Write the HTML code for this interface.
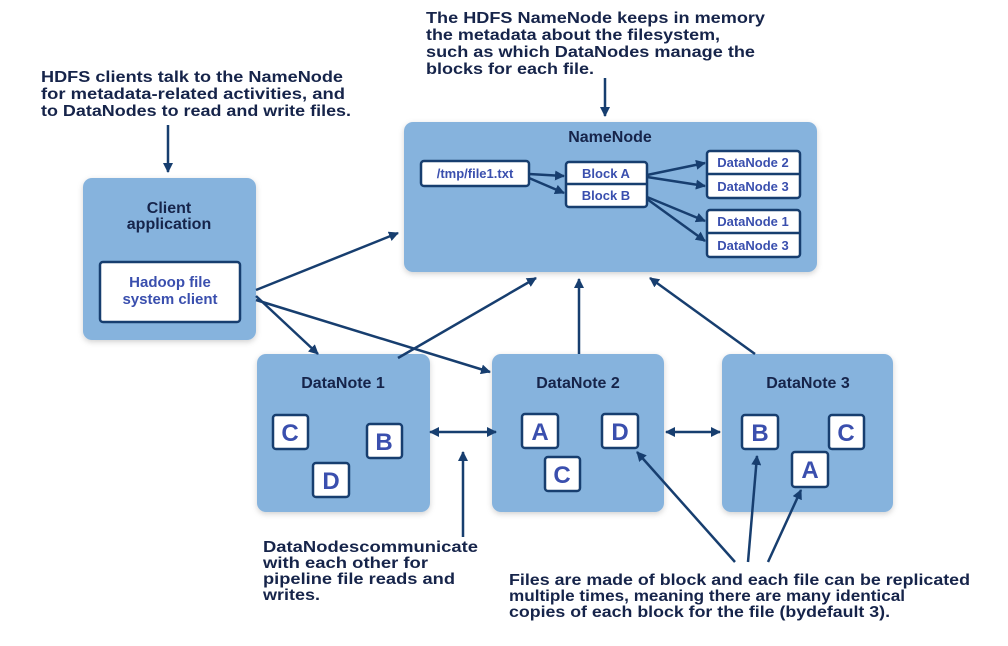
<!DOCTYPE html>
<html><head><meta charset="utf-8"><style>
html,body{margin:0;padding:0;background:#fff;}
svg{display:block;}
text{font-family:"Liberation Sans",sans-serif;font-weight:bold;}
.t{fill:#16244a;font-size:16px;}
.h{fill:#16244a;font-size:16px;}
.w{fill:#3a4fae;font-size:13px;}
.L{fill:#3a4fae;font-size:24px;}
.box{fill:#86b3dd;}
.wb{fill:#fff;stroke:#173e6f;stroke-width:2.5;}
.ln{stroke:#173e6f;stroke-width:2.5;fill:none;}
</style></head><body>
<svg width="1008" height="646" viewBox="0 0 1008 646">
<defs>
<marker id="a" markerWidth="10" markerHeight="10" refX="9" refY="5" orient="auto" markerUnits="userSpaceOnUse"><path d="M0,0 L10,5 L0,10 Z" fill="#173e6f"/></marker>
<marker id="s" markerWidth="10" markerHeight="10" refX="1" refY="5" orient="auto" markerUnits="userSpaceOnUse"><path d="M10,0 L0,5 L10,10 Z" fill="#173e6f"/></marker>
<filter id="sh" x="-10%" y="-10%" width="120%" height="130%"><feDropShadow dx="0" dy="2" stdDeviation="3" flood-color="#000" flood-opacity="0.18"/></filter>
</defs>

<text class="t" x="426" y="23" textLength="339" lengthAdjust="spacingAndGlyphs">The HDFS NameNode keeps in memory</text>
<text class="t" x="426" y="40" textLength="294" lengthAdjust="spacingAndGlyphs">the metadata about the filesystem,</text>
<text class="t" x="426" y="57" textLength="329" lengthAdjust="spacingAndGlyphs">such as which DataNodes manage the</text>
<text class="t" x="426" y="74" textLength="168" lengthAdjust="spacingAndGlyphs">blocks for each file.</text>

<text class="t" x="41" y="82" textLength="302" lengthAdjust="spacingAndGlyphs">HDFS clients talk to the NameNode</text>
<text class="t" x="41" y="99" textLength="304" lengthAdjust="spacingAndGlyphs">for metadata-related activities, and</text>
<text class="t" x="41" y="116" textLength="310" lengthAdjust="spacingAndGlyphs">to DataNodes to read and write files.</text>

<text class="t" x="263" y="552" textLength="215" lengthAdjust="spacingAndGlyphs">DataNodescommunicate</text>
<text class="t" x="263" y="568" textLength="165" lengthAdjust="spacingAndGlyphs">with each other for</text>
<text class="t" x="263" y="584" textLength="192" lengthAdjust="spacingAndGlyphs">pipeline file reads and</text>
<text class="t" x="263" y="600" textLength="57" lengthAdjust="spacingAndGlyphs">writes.</text>

<text class="t" x="509" y="585" textLength="461" lengthAdjust="spacingAndGlyphs">Files are made of block and each file can be replicated</text>
<text class="t" x="509" y="601" textLength="396" lengthAdjust="spacingAndGlyphs">multiple times, meaning there are many identical</text>
<text class="t" x="509" y="617" textLength="381" lengthAdjust="spacingAndGlyphs">copies of each block for the file (bydefault 3).</text>

<rect class="box" filter="url(#sh)" x="83" y="178" width="173" height="162" rx="9"/>
<rect class="box" filter="url(#sh)" x="404" y="122" width="413" height="150" rx="9"/>
<rect class="box" filter="url(#sh)" x="257" y="354" width="173" height="158" rx="9"/>
<rect class="box" filter="url(#sh)" x="492" y="354" width="172" height="158" rx="9"/>
<rect class="box" filter="url(#sh)" x="722" y="354" width="171" height="158" rx="9"/>

<text class="h" x="169" y="213" text-anchor="middle">Client</text>
<text class="h" x="169" y="229" text-anchor="middle">application</text>
<rect class="wb" x="100" y="262" width="140" height="60" rx="3"/>
<text class="w" style="font-size:15px" x="170" y="287" text-anchor="middle">Hadoop file</text>
<text class="w" style="font-size:15px" x="170" y="304" text-anchor="middle">system client</text>

<text class="h" x="610" y="142" text-anchor="middle">NameNode</text>
<rect class="wb" x="421" y="161" width="108" height="25" rx="3"/>
<text class="w" x="475" y="178" text-anchor="middle">/tmp/file1.txt</text>
<rect class="wb" x="566" y="162" width="81" height="45" rx="3"/>
<line class="ln" x1="566" y1="184" x2="647" y2="184"/>
<text class="w" x="606" y="178" text-anchor="middle">Block A</text>
<text class="w" x="606" y="200" text-anchor="middle">Block B</text>
<rect class="wb" x="707" y="151" width="93" height="47" rx="3"/>
<line class="ln" x1="707" y1="174" x2="800" y2="174"/>
<text class="w" x="753" y="167" text-anchor="middle">DataNode 2</text>
<text class="w" x="753" y="191" text-anchor="middle">DataNode 3</text>
<rect class="wb" x="707" y="210" width="93" height="47" rx="3"/>
<line class="ln" x1="707" y1="233" x2="800" y2="233"/>
<text class="w" x="753" y="226" text-anchor="middle">DataNode 1</text>
<text class="w" x="753" y="250" text-anchor="middle">DataNode 3</text>

<line class="ln" x1="529" y1="174" x2="564" y2="176" marker-end="url(#a)"/>
<line class="ln" x1="529" y1="178" x2="564" y2="193" marker-end="url(#a)"/>
<line class="ln" x1="647" y1="175" x2="705" y2="163" marker-end="url(#a)"/>
<line class="ln" x1="647" y1="177" x2="705" y2="186" marker-end="url(#a)"/>
<line class="ln" x1="647" y1="197" x2="705" y2="221" marker-end="url(#a)"/>
<line class="ln" x1="647" y1="199" x2="705" y2="241" marker-end="url(#a)"/>

<text class="h" x="343" y="388" text-anchor="middle">DataNote 1</text>
<text class="h" x="578" y="388" text-anchor="middle">DataNote 2</text>
<text class="h" x="808" y="388" text-anchor="middle">DataNote 3</text>

<g>
<rect class="wb" x="273" y="415" width="35" height="34" rx="3"/><text class="L" x="290" y="441" text-anchor="middle">C</text>
<rect class="wb" x="367" y="424" width="35" height="34" rx="3"/><text class="L" x="384" y="450" text-anchor="middle">B</text>
<rect class="wb" x="313" y="463" width="36" height="34" rx="3"/><text class="L" x="331" y="489" text-anchor="middle">D</text>
<rect class="wb" x="522" y="414" width="36" height="34" rx="3"/><text class="L" x="540" y="440" text-anchor="middle">A</text>
<rect class="wb" x="602" y="414" width="36" height="34" rx="3"/><text class="L" x="620" y="440" text-anchor="middle">D</text>
<rect class="wb" x="545" y="457" width="35" height="34" rx="3"/><text class="L" x="562" y="483" text-anchor="middle">C</text>
<rect class="wb" x="742" y="415" width="36" height="34" rx="3"/><text class="L" x="760" y="441" text-anchor="middle">B</text>
<rect class="wb" x="829" y="415" width="35" height="34" rx="3"/><text class="L" x="846" y="441" text-anchor="middle">C</text>
<rect class="wb" x="792" y="452" width="36" height="35" rx="3"/><text class="L" x="810" y="478" text-anchor="middle">A</text>
</g>

<line class="ln" x1="605" y1="78" x2="605" y2="116" marker-end="url(#a)"/>
<line class="ln" x1="168" y1="125" x2="168" y2="172" marker-end="url(#a)"/>
<line class="ln" x1="256" y1="290" x2="398" y2="233" marker-end="url(#a)"/>
<line class="ln" x1="256" y1="296" x2="318" y2="354" marker-end="url(#a)"/>
<line class="ln" x1="256" y1="300" x2="490" y2="372" marker-end="url(#a)"/>
<line class="ln" x1="398" y1="358" x2="536" y2="278" marker-end="url(#a)"/>
<line class="ln" x1="579" y1="354" x2="579" y2="279" marker-end="url(#a)"/>
<line class="ln" x1="755" y1="354" x2="650" y2="278" marker-end="url(#a)"/>
<line class="ln" x1="430" y1="432" x2="496" y2="432" marker-start="url(#s)" marker-end="url(#a)"/>
<line class="ln" x1="666" y1="432" x2="720" y2="432" marker-start="url(#s)" marker-end="url(#a)"/>
<line class="ln" x1="463" y1="537" x2="463" y2="452" marker-end="url(#a)"/>
<line class="ln" x1="735" y1="562" x2="637" y2="452" marker-end="url(#a)"/>
<line class="ln" x1="748" y1="562" x2="757" y2="456" marker-end="url(#a)"/>
<line class="ln" x1="768" y1="562" x2="801" y2="490" marker-end="url(#a)"/>
</svg>
</body></html>
